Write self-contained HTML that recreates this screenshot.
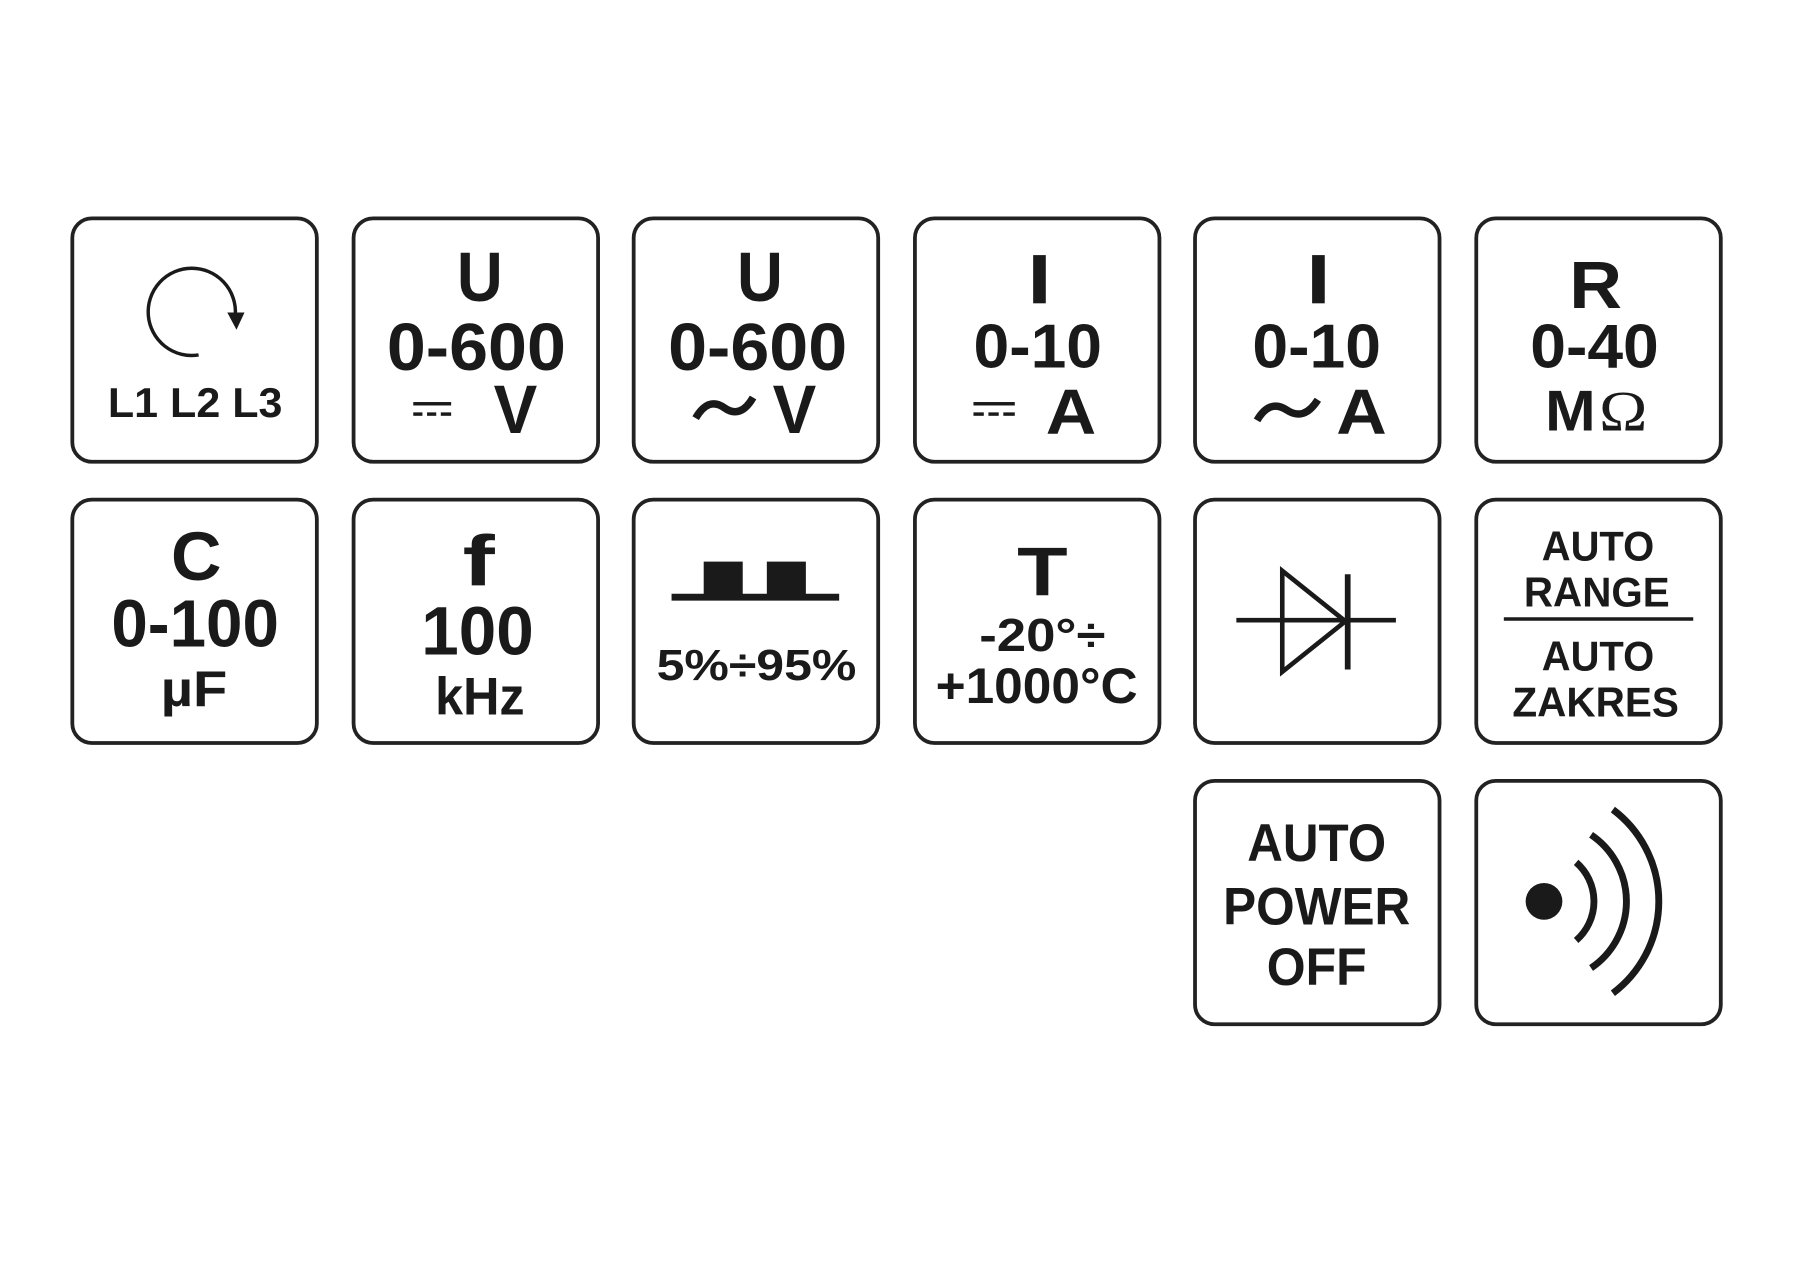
<!DOCTYPE html>
<html><head><meta charset="utf-8"><style>
html,body{margin:0;padding:0;background:#fff;}
svg{display:block;}
text{font-family:"Liberation Sans",Arial,sans-serif;font-weight:bold;fill:#1a1a1a;text-anchor:middle;}
</style></head><body>
<svg width="1800" height="1269" viewBox="0 0 1568 1105" xmlns="http://www.w3.org/2000/svg">
<rect width="1568" height="1105" fill="#fff"/>
<g fill="#fff" stroke="#222" stroke-width="3.3">
<rect x="63" y="190" width="213" height="212" rx="17"/>
<rect x="308" y="190" width="213" height="212" rx="17"/>
<rect x="552" y="190" width="213" height="212" rx="17"/>
<rect x="797" y="190" width="213" height="212" rx="17"/>
<rect x="1041" y="190" width="213" height="212" rx="17"/>
<rect x="1286" y="190" width="213" height="212" rx="17"/>
<rect x="63" y="435" width="213" height="212" rx="17"/>
<rect x="308" y="435" width="213" height="212" rx="17"/>
<rect x="552" y="435" width="213" height="212" rx="17"/>
<rect x="797" y="435" width="213" height="212" rx="17"/>
<rect x="1041" y="435" width="213" height="212" rx="17"/>
<rect x="1286" y="435" width="213" height="212" rx="17"/>
<rect x="1041" y="680" width="213" height="212" rx="17"/>
<rect x="1286" y="680" width="213" height="212" rx="17"/>
</g>
<!-- box1 -->
<path d="M173 309 A38 38 0 1 1 205 274" fill="none" stroke="#1a1a1a" stroke-width="3"/>
<polygon points="198,272 213,272 206,287" fill="#1a1a1a"/>
<text x="170" y="363" font-size="36" textLength="152" lengthAdjust="spacingAndGlyphs">L1 L2 L3</text>
<!-- box2 -->
<text x="418" y="262" font-size="61" textLength="40" lengthAdjust="spacingAndGlyphs">U</text>
<text x="415" y="322" font-size="58" textLength="156" lengthAdjust="spacingAndGlyphs">0-600</text>
<rect x="360" y="350" width="33" height="3" fill="#1a1a1a"/>
<rect x="360" y="359" width="8" height="3" fill="#1a1a1a"/><rect x="372" y="359" width="8" height="3" fill="#1a1a1a"/><rect x="384" y="359" width="9" height="3" fill="#1a1a1a"/>
<text x="449" y="377" font-size="60" textLength="38" lengthAdjust="spacingAndGlyphs">V</text>
<!-- box3 -->
<text x="662" y="262" font-size="61" textLength="40" lengthAdjust="spacingAndGlyphs">U</text>
<text x="660" y="322" font-size="58" textLength="156" lengthAdjust="spacingAndGlyphs">0-600</text>
<path d="M606 364 Q617 345 631 355 Q645 365 656 346" fill="none" stroke="#1a1a1a" stroke-width="6.5"/>
<text x="692" y="377" font-size="60" textLength="38" lengthAdjust="spacingAndGlyphs">V</text>
<!-- box4 -->
<rect x="900" y="222" width="11" height="42" fill="#1a1a1a"/>
<text x="904" y="320" font-size="54" textLength="112" lengthAdjust="spacingAndGlyphs">0-10</text>
<rect x="848" y="350" width="36" height="3" fill="#1a1a1a"/>
<rect x="848" y="359" width="9" height="3" fill="#1a1a1a"/><rect x="861" y="359" width="9" height="3" fill="#1a1a1a"/><rect x="874" y="359" width="10" height="3" fill="#1a1a1a"/>
<text x="933" y="378" font-size="56" textLength="44" lengthAdjust="spacingAndGlyphs">A</text>
<!-- box5 -->
<rect x="1143" y="222" width="11" height="42" fill="#1a1a1a"/>
<text x="1147" y="320" font-size="54" textLength="112" lengthAdjust="spacingAndGlyphs">0-10</text>
<path d="M1095 366 Q1106 347 1121 357 Q1136 367 1148 348" fill="none" stroke="#1a1a1a" stroke-width="6.5"/>
<text x="1186" y="378" font-size="56" textLength="44" lengthAdjust="spacingAndGlyphs">A</text>
<!-- box6 -->
<text x="1390" y="268" font-size="58" textLength="46" lengthAdjust="spacingAndGlyphs">R</text>
<text x="1389" y="320" font-size="54" textLength="112" lengthAdjust="spacingAndGlyphs">0-40</text>
<text x="1368" y="375" font-size="50" textLength="44" lengthAdjust="spacingAndGlyphs">M</text>
<text x="1414" y="375" font-size="50" style="font-family:'Liberation Serif',serif;font-weight:normal" textLength="42" lengthAdjust="spacingAndGlyphs">Ω</text>
<!-- box7 -->
<text x="171" y="505" font-size="60" textLength="44" lengthAdjust="spacingAndGlyphs">C</text>
<text x="170" y="563" font-size="58" textLength="146" lengthAdjust="spacingAndGlyphs">0-100</text>
<text x="169" y="615" font-size="44" textLength="58" lengthAdjust="spacingAndGlyphs">µF</text>
<!-- box8 -->
<text x="417" y="510" font-size="62" textLength="28" lengthAdjust="spacingAndGlyphs">f</text>
<text x="416" y="570" font-size="60" textLength="98" lengthAdjust="spacingAndGlyphs">100</text>
<text x="418" y="622" font-size="46" textLength="78" lengthAdjust="spacingAndGlyphs">kHz</text>
<!-- box9 -->
<rect x="585" y="517" width="146" height="6" fill="#1a1a1a"/>
<rect x="613" y="489" width="34" height="30" fill="#1a1a1a"/>
<rect x="668" y="489" width="34" height="30" fill="#1a1a1a"/>
<text x="659" y="592" font-size="38" textLength="174" lengthAdjust="spacingAndGlyphs">5%÷95%</text>
<!-- box10 -->
<text x="908" y="518" font-size="60" textLength="44" lengthAdjust="spacingAndGlyphs">T</text>
<text x="908" y="567" font-size="40" textLength="110" lengthAdjust="spacingAndGlyphs">-20°÷</text>
<text x="903" y="612" font-size="44" textLength="176" lengthAdjust="spacingAndGlyphs">+1000°C</text>
<!-- box11 diode -->
<line x1="1077" y1="540" x2="1216" y2="540" stroke="#1a1a1a" stroke-width="4"/>
<polygon points="1117,497 1117,585 1172,541" fill="none" stroke="#1a1a1a" stroke-width="4"/>
<line x1="1174" y1="500" x2="1174" y2="583" stroke="#1a1a1a" stroke-width="5"/>
<!-- box12 -->
<text x="1392" y="488" font-size="36" textLength="98" lengthAdjust="spacingAndGlyphs">AUTO</text>
<text x="1391" y="528" font-size="36" textLength="127" lengthAdjust="spacingAndGlyphs">RANGE</text>
<line x1="1310" y1="539" x2="1475" y2="539" stroke="#1a1a1a" stroke-width="3"/>
<text x="1392" y="584" font-size="36" textLength="98" lengthAdjust="spacingAndGlyphs">AUTO</text>
<text x="1390" y="624" font-size="36" textLength="145" lengthAdjust="spacingAndGlyphs">ZAKRES</text>
<!-- box13 -->
<text x="1147" y="750" font-size="46" textLength="121" lengthAdjust="spacingAndGlyphs">AUTO</text>
<text x="1147" y="805" font-size="46" textLength="163" lengthAdjust="spacingAndGlyphs">POWER</text>
<text x="1147" y="858" font-size="46" textLength="87" lengthAdjust="spacingAndGlyphs">OFF</text>
<!-- box14 -->
<circle cx="1345" cy="785" r="16" fill="#1a1a1a"/>
<g fill="none" stroke="#1a1a1a" stroke-width="6">
<path d="M1373 751 A45 45 0 0 1 1373 819"/>
<path d="M1386 727 A70 70 0 0 1 1386 843"/>
<path d="M1405 705 A100 100 0 0 1 1405 865"/>
</g>
</svg>
</body></html>
